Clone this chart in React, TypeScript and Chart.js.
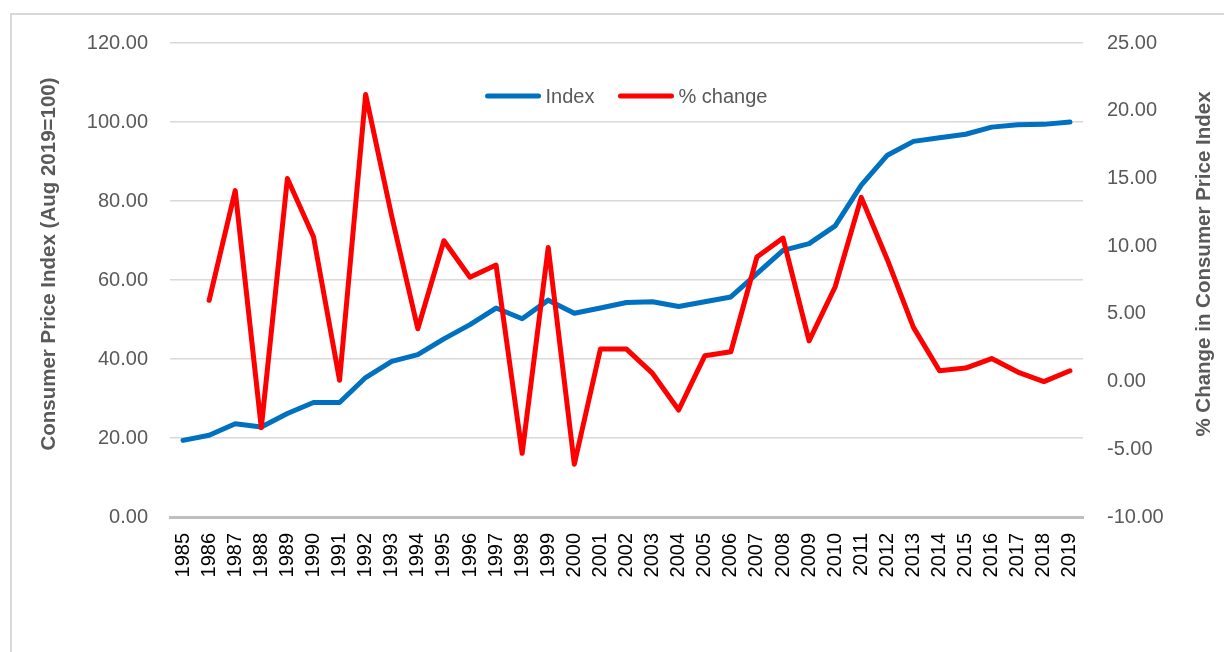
import React, { useEffect, useRef } from "react";
import { Chart, registerables } from "chart.js";

Chart.register(...registerables);

const years: string[] = [
  "1985", "1986", "1987", "1988", "1989", "1990", "1991", "1992", "1993", "1994",
  "1995", "1996", "1997", "1998", "1999", "2000", "2001", "2002", "2003", "2004",
  "2005", "2006", "2007", "2008", "2009", "2010", "2011", "2012", "2013", "2014",
  "2015", "2016", "2017", "2018", "2019",
];

const indexValues: number[] = [
  19.4, 20.7, 23.6, 22.8, 26.2, 29.0, 29.0, 35.3, 39.4, 41.1,
  45.1, 48.7, 52.9, 50.2, 54.9, 51.6, 52.9, 54.3, 54.5, 53.3,
  54.5, 55.7, 61.6, 67.5, 69.2, 73.7, 84.0, 91.6, 95.1, 96.0,
  96.9, 98.7, 99.3, 99.4, 100.0,
];

const pctChange: (number | null)[] = [
  null, 6.0, 14.1, -3.4, 15.0, 10.7, 0.1, 21.2, 12.2, 3.9,
  10.4, 7.7, 8.6, -5.3, 9.9, -6.1, 2.4, 2.4, 0.6, -2.1,
  1.9, 2.2, 9.2, 10.6, 3.0, 7.0, 13.6, 9.0, 4.0, 0.8,
  1.0, 1.7, 0.7, 0.0, 0.8,
];

const seriesNames = ["Index", "% change"];
const leftTitle = "Consumer Price Index (Aug 2019=100)";
const rightTitle = "% Change in Consumer Price Index";

const FONT = "'Liberation Sans', Arial, sans-serif";
const BLUE = "#0070C0";
const RED = "#FF0000";
const GREY_TEXT = "#595959";

const overlayPlugin = {
  id: "overlay",
  afterDraw(chart: any) {
    const ctx = chart.ctx as CanvasRenderingContext2D;
    const area = chart.chartArea;
    ctx.save();
    // axis titles
    ctx.fillStyle = GREY_TEXT;
    ctx.font = `bold 20.5px ${FONT}`;
    ctx.textAlign = "center";
    ctx.textBaseline = "middle";
    ctx.save();
    ctx.translate(49, 264);
    ctx.rotate(-Math.PI / 2);
    ctx.fillText(leftTitle, 0, 0);
    ctx.restore();
    ctx.save();
    ctx.translate(1204, 264);
    ctx.rotate(-Math.PI / 2);
    ctx.fillText(rightTitle, 0, 0);
    ctx.restore();

    // legend inside plot area
    ctx.font = `20px ${FONT}`;
    const lineLen = 55;
    const textGap = 5;
    const itemGap = 24;
    const colors = [BLUE, RED];
    const widths = seriesNames.map((n) => ctx.measureText(n).width);
    const total =
      widths.reduce((a, w) => a + lineLen + textGap + w, 0) + itemGap * (seriesNames.length - 1);
    let x = (area.left + area.right) / 2 - total / 2;
    const y = 96;
    ctx.textAlign = "left";
    seriesNames.forEach((name, i) => {
      ctx.strokeStyle = colors[i];
      ctx.lineWidth = 5;
      ctx.lineCap = "round";
      ctx.beginPath();
      ctx.moveTo(x + 2, y);
      ctx.lineTo(x + lineLen - 2, y);
      ctx.stroke();
      ctx.fillStyle = GREY_TEXT;
      ctx.fillText(name, x + lineLen + textGap, y + 1);
      x += lineLen + textGap + widths[i] + itemGap;
    });
    ctx.restore();
  },
};

export default function App() {
  const canvasRef = useRef<HTMLCanvasElement | null>(null);

  useEffect(() => {
    const canvas = canvasRef.current;
    if (!canvas) return;
    const chart = new Chart(canvas, {
      type: "line",
      data: {
        labels: years,
        datasets: [
          {
            label: seriesNames[0],
            data: indexValues,
            borderColor: BLUE,
            backgroundColor: BLUE,
            borderWidth: 5,
            pointRadius: 0,
            tension: 0,
            borderCapStyle: "round",
            borderJoinStyle: "round",
            yAxisID: "y",
            order: 1,
          },
          {
            label: seriesNames[1],
            data: pctChange,
            borderColor: RED,
            backgroundColor: RED,
            borderWidth: 5,
            pointRadius: 0,
            tension: 0,
            borderCapStyle: "round",
            borderJoinStyle: "round",
            yAxisID: "y1",
            order: 0,
          },
        ],
      },
      options: {
        responsive: false,
        animation: false,
        events: [],
        layout: { padding: { top: 43, left: 0, right: 0, bottom: 0 } },
        plugins: {
          legend: { display: false },
          tooltip: { enabled: false },
          title: { display: false },
        },
        scales: {
          x: {
            type: "category",
            offset: true,
            grid: { display: false, drawTicks: false },
            border: { display: true, color: "#bfbfbf", width: 3 },
            ticks: {
              autoSkip: false,
              maxRotation: 90,
              minRotation: 90,
              padding: 16,
              color: "#000000",
              font: { family: FONT, size: 20 },
            },
            afterFit: (s: any) => {
              s.height = 135;
            },
          },
          y: {
            position: "left",
            min: 0,
            max: 120,
            ticks: {
              stepSize: 20,
              padding: 22,
              color: GREY_TEXT,
              font: { family: FONT, size: 20 },
              callback: (v: any) => Number(v).toFixed(2),
            },
            grid: { color: "#d9d9d9", lineWidth: 1.5, drawTicks: false },
            border: { display: false },
            afterFit: (s: any) => {
              s.width = 170;
            },
          },
          y1: {
            position: "right",
            min: -10,
            max: 25,
            ticks: {
              stepSize: 5,
              padding: 24,
              color: GREY_TEXT,
              font: { family: FONT, size: 20 },
              callback: (v: any) => Number(v).toFixed(2),
            },
            grid: { display: false, drawTicks: false },
            border: { display: false },
            afterFit: (s: any) => {
              s.width = 141;
            },
          },
        },
      },
      plugins: [overlayPlugin],
    } as any);
    return () => chart.destroy();
  }, []);

  return (
    <div
      style={{
        position: "fixed",
        left: 0,
        top: 0,
        width: 1224,
        height: 652,
        overflow: "hidden",
        background: "#ffffff",
      }}
    >
      <div
        style={{
          position: "absolute",
          left: 10,
          top: 13,
          width: 1300,
          height: 760,
          border: "2px solid #d9d9d9",
          boxSizing: "border-box",
        }}
      />
      <canvas
        ref={canvasRef}
        width={1224}
        height={652}
        style={{ position: "absolute", left: 0, top: 0, width: 1224, height: 652 }}
      />
    </div>
  );
}
